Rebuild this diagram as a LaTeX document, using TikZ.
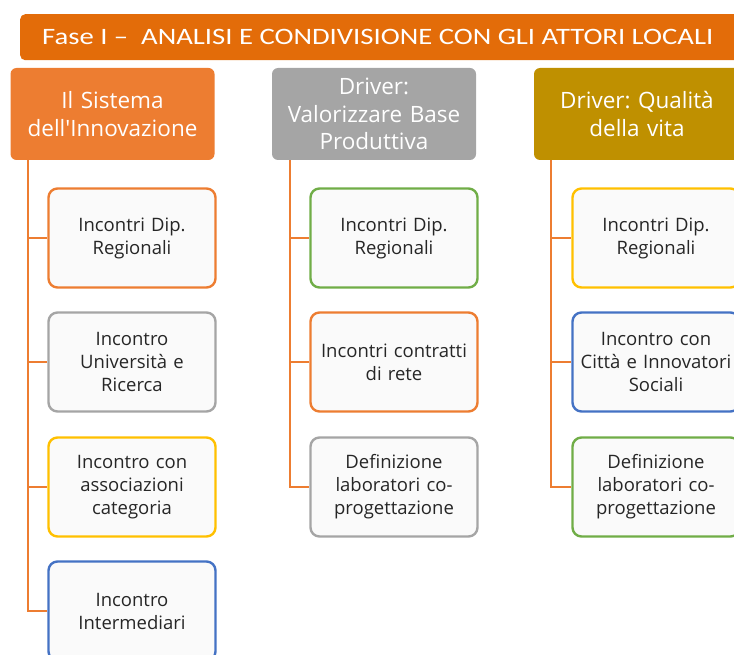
\documentclass[tikz,border=0pt]{standalone}
\usepackage{fontspec}
\setmainfont{Open Sans}
\newfontfamily\titlefont[FakeStretch=1.22]{Carlito}
\frenchspacing
\newcommand{\straightquote}{\XeTeXglyph\XeTeXcharglyph"0027\relax}
\definecolor{banner}{HTML}{E36C09}
\definecolor{corange}{HTML}{ED7D31}
\definecolor{cgray}{HTML}{A5A5A5}
\definecolor{cgold}{HTML}{BF9000}
\definecolor{cyellow}{HTML}{FFC000}
\definecolor{cblue}{HTML}{4472C4}
\definecolor{cgreen}{HTML}{70AD47}
\definecolor{cfill}{HTML}{FAFAFA}
\definecolor{ctext}{HTML}{262626}
\tikzset{
  hdr/.style={rounded corners=6pt, minimum width=204pt, minimum height=92pt, text width=204pt, align=center, text=white, font=\fontsize{22.5}{27.5}\selectfont, inner sep=0pt},
  child/.style={draw=#1, line width=2.4pt, fill=cfill, rounded corners=9pt, minimum width=167pt, minimum height=99pt, text width=164pt, align=center, text=ctext, font=\fontsize{18.5}{23}\selectfont, inner sep=0pt},
  conn/.style={draw=corange, line width=2pt}
}
\begin{document}
\begin{tikzpicture}[x=1pt,y=-1pt]
\useasboundingbox (0,0) rectangle (734,655);
\clip (0,0) rectangle (734,655);
% banner
\node[fill=banner, rounded corners=5pt, minimum width=730pt, minimum height=46pt, anchor=north west, inner sep=0pt] (banner) at (20,14) {};
\node[text=white, font=\titlefont\fontsize{23.5}{28}\selectfont, anchor=west, inner sep=0pt] (title) at (42,37) {Fase I –\ \ ANALISI E CONDIVISIONE CON GLI ATTORI LOCALI};
% headers
\node[hdr, fill=corange] (h1) at (112.5,114) {Il Sistema\\dell\straightquote Innovazione};
\node[hdr, fill=cgray] (h2) at (374,114) {Driver:\\Valorizzare Base\\Produttiva};
\node[hdr, fill=cgold, minimum width=206pt] (h3) at (637,114) {Driver: Qualità\\della vita};
% column 1
\node[child=corange] (a1) at (132,238) {Incontri Dip.\\Regionali};
\node[child=cgray] (a2) at (132,362) {Incontro\\Università e\\Ricerca};
\node[child=cyellow] (a3) at (132,487) {Incontro con\\associazioni\\categoria};
\node[child=cblue] (a4) at (132,611) {Incontro\\Intermediari};
% column 2
\node[child=cgreen] (b1) at (394,238) {Incontri Dip.\\Regionali};
\node[child=corange] (b2) at (394,362) {Incontri contratti\\di rete};
\node[child=cgray] (b3) at (394,487) {Definizione\\laboratori co-\\progettazione};
% column 3
\node[child=cyellow] (c1) at (656,238) {Incontri Dip.\\Regionali};
\node[child=cblue] (c2) at (656,362) {Incontro con\\Città e Innovatori\\Sociali};
\node[child=cgreen] (c3) at (656,487) {Definizione\\laboratori co-\\progettazione};
% connectors
\draw[conn] ([xshift=-84.5pt]h1.south) |- (a1.west);
\draw[conn] ([xshift=-84.5pt]h1.south) |- (a2.west);
\draw[conn] ([xshift=-84.5pt]h1.south) |- (a3.west);
\draw[conn] ([xshift=-84.5pt]h1.south) |- (a4.west);
\draw[conn] ([xshift=-84pt]h2.south) |- (b1.west);
\draw[conn] ([xshift=-84pt]h2.south) |- (b2.west);
\draw[conn] ([xshift=-84pt]h2.south) |- (b3.west);
\draw[conn] ([xshift=-86pt]h3.south) |- (c1.west);
\draw[conn] ([xshift=-86pt]h3.south) |- (c2.west);
\draw[conn] ([xshift=-86pt]h3.south) |- (c3.west);
\end{tikzpicture}
\end{document}
